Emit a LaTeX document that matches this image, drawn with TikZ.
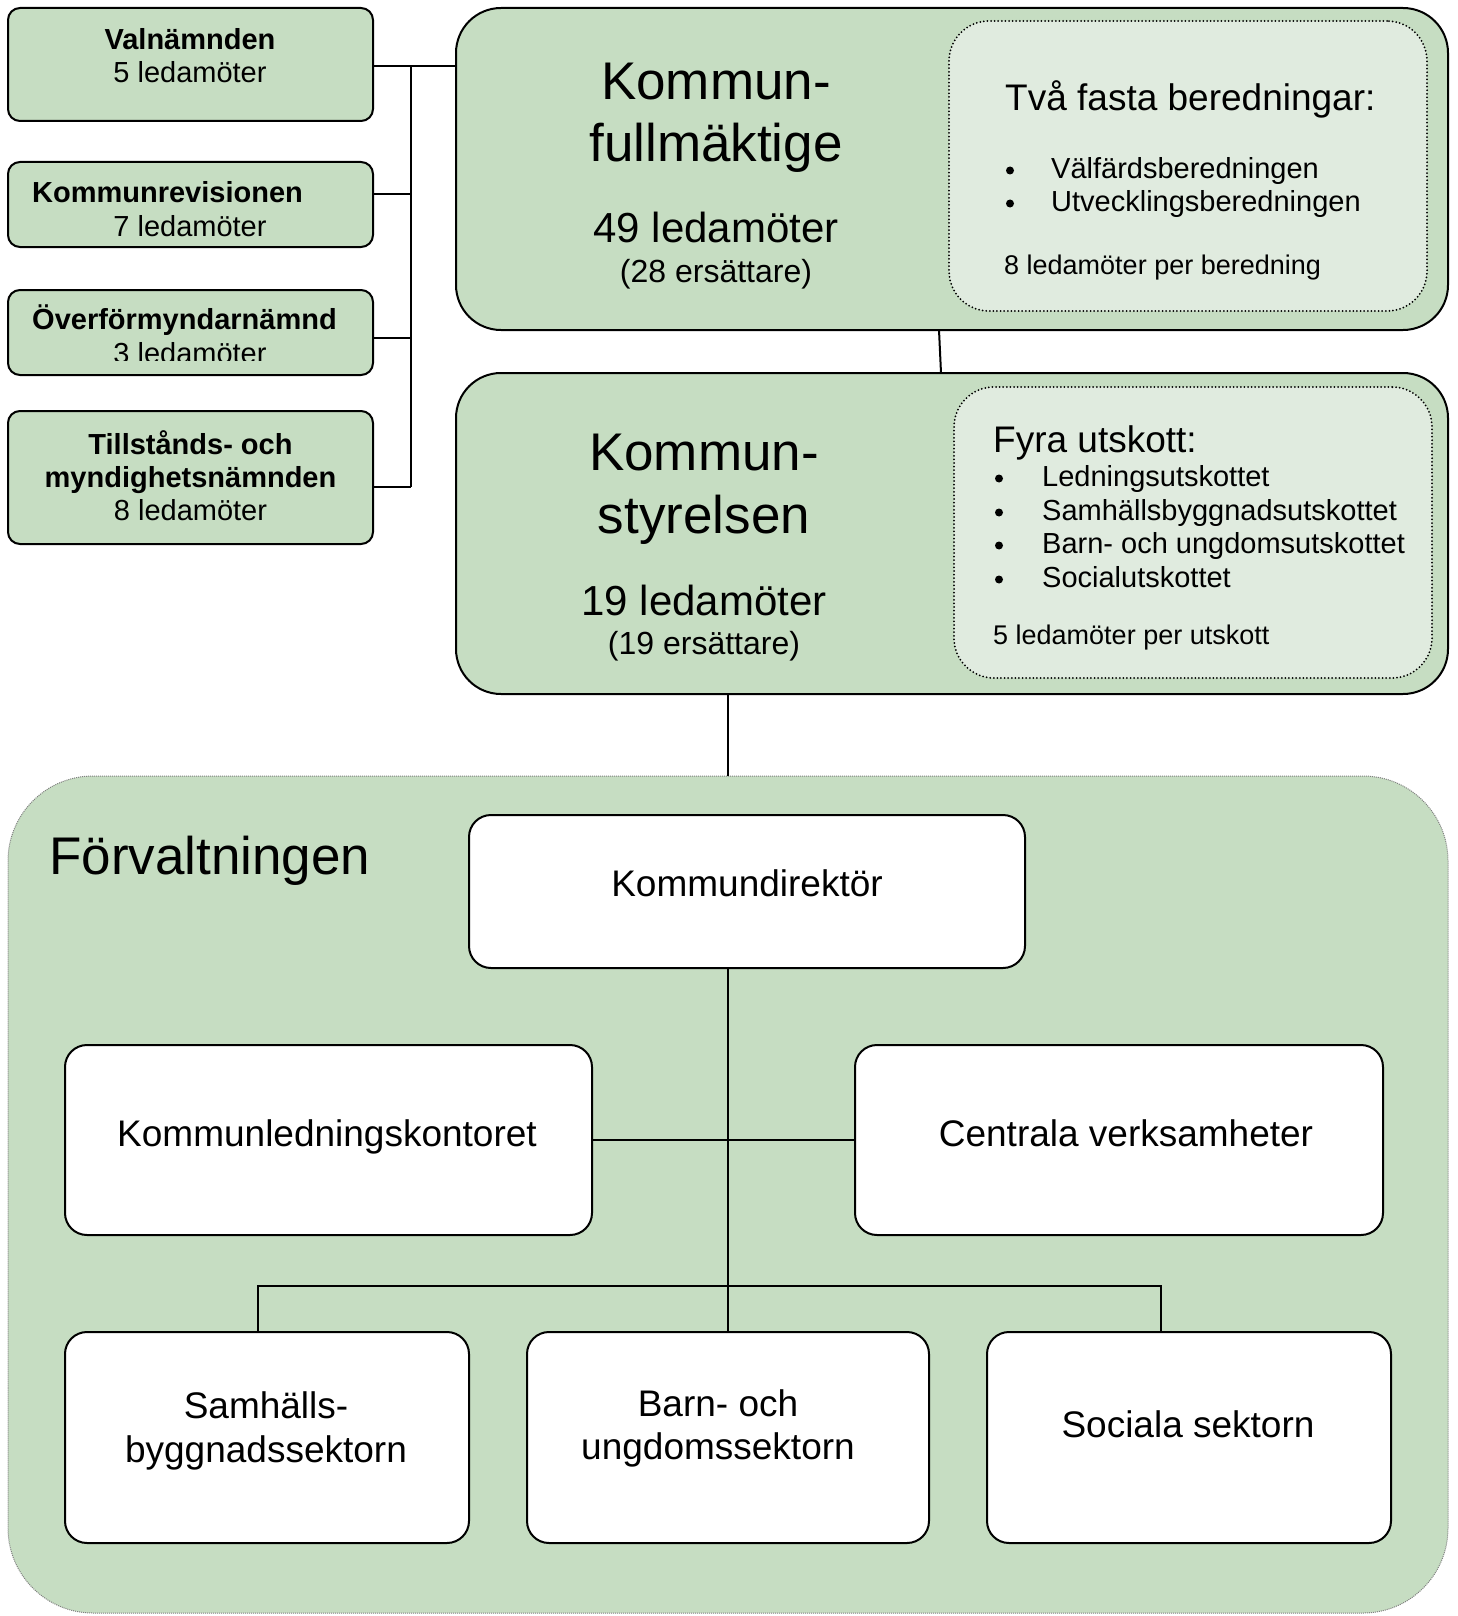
\documentclass[tikz,border=0pt]{standalone}
\usepackage{fontspec}
\setmainfont{Liberation Sans}
\definecolor{boxgreen}{RGB}{198,221,194}
\definecolor{innergreen}{RGB}{224,235,223}
\newcommand{\fsTitle}{\fontsize{53}{62}\selectfont}
\newcommand{\fsCount}{\fontsize{42}{48}\selectfont}
\newcommand{\fsSub}{\fontsize{32}{38}\selectfont}
\newcommand{\fsHead}{\fontsize{37}{43}\selectfont}
\newcommand{\fsItem}{\fontsize{29}{33}\selectfont}
\newcommand{\fsNote}{\fontsize{27}{31}\selectfont}
\begin{document}
\begin{tikzpicture}[x=1pt,y=-1pt,
  box/.style={draw, line width=2pt, inner sep=0pt, outer sep=0pt},
  lbox/.style={box, fill=boxgreen, rounded corners=12pt},
  bigbox/.style={box, fill=boxgreen, rounded corners=45pt},
  inbox/.style={draw, line width=2pt, line cap=round, dash pattern=on 0pt off 3.6pt, fill=innergreen, rounded corners=40pt, inner sep=0pt, outer sep=0pt},
  wbox/.style={box, fill=white, rounded corners=22pt},
  forvbox/.style={draw=gray, line width=1pt, dash pattern=on 1pt off 1pt, fill=boxgreen, rounded corners=85pt, inner sep=0pt, outer sep=0pt},
  conn/.style={line width=2pt},
  txt/.style={inner sep=0pt, anchor=base},
  ltxt/.style={inner sep=0pt, anchor=base west},
  bulletdot/.style={circle, fill=black, inner sep=0pt, minimum size=8pt}]
\useasboundingbox (0,0) rectangle (1457,1616);

% Förvaltningen container
\node[forvbox, minimum width=1440, minimum height=837] (forv) at (728,1194.5) {};

% Left boxes
\node[lbox, minimum width=365, minimum height=113] (val) at (190.5,64.5) {};
\node[lbox, minimum width=365, minimum height=85] (rev) at (190.5,204.5) {};
\node[lbox, minimum width=365, minimum height=85] (ovf) at (190.5,332.5) {};
\node[lbox, minimum width=365, minimum height=133] (till) at (190.5,477.5) {};

% Kommunfullmäktige / Kommunstyrelsen
\node[bigbox, minimum width=992, minimum height=322] (kf) at (952,169) {};
\node[inbox, minimum width=478, minimum height=290] (kfin) at (1188,166) {};
\node[bigbox, minimum width=992, minimum height=321] (ks) at (952,533.5) {};
\node[inbox, minimum width=478, minimum height=291] (ksin) at (1193,532.5) {};

% Förvaltningen boxes
\node[wbox, minimum width=556, minimum height=153] (dir) at (747,891.5) {};
\node[wbox, minimum width=527, minimum height=190] (klk) at (328.5,1140) {};
\node[wbox, minimum width=528, minimum height=190] (cv) at (1119,1140) {};
\node[wbox, minimum width=404, minimum height=211] (sam) at (267,1437.5) {};
\node[wbox, minimum width=402, minimum height=211] (barn) at (728,1437.5) {};
\node[wbox, minimum width=404, minimum height=211] (soc) at (1189,1437.5) {};

% Connectors, left group
\coordinate (busTop) at (411,66);
\coordinate (busBot) at (411,487);
\draw[conn] (busTop) -- (busBot);
\draw[conn] ([yshift=-1.5pt]val.east) -- ([yshift=-1.5pt]val.east -| kf.west);
\draw[conn] ([yshift=10.5pt]rev.east) -- ([yshift=10.5pt]rev.east -| busTop);
\draw[conn] ([yshift=-5pt]ovf.east) -- ([yshift=-5pt]ovf.east -| busTop);
\draw[conn] ([yshift=-9.5pt]till.east) -- (busBot);

% Connectors, main column
\draw[conn] ([xshift=-13pt]kf.south) -- ([xshift=-11pt]ks.north);
\draw[conn] (forv.north) -- (forv.north |- ks.south);
\draw[conn] (barn.north) -- (barn.north |- dir.south);
\draw[conn] (klk.east) -- (cv.west);
\coordinate (bj) at (728,1286);
\draw[conn] ([xshift=-9pt]sam.north) |- (bj) -| ([xshift=-28pt]soc.north);

% Left box texts
\node[txt] (t1a) at (190,49.5) {\fsItem\bfseries Valnämnden};
\node[txt] (t1b) at (190,82.5) {\fsItem 5 ledamöter};
\node[txt] (t2a) at (167.5,202) {\fsItem\bfseries Kommunrevisionen};
\node[txt] (t2b) at (190,236) {\fsItem 7 ledamöter};
\node[txt] (t3a) at (184.5,329.5) {\fsItem\bfseries Överförmyndarnämnd};
\begin{scope}
\clip (0,0) rectangle (400,360);
\node[txt] (t3b) at (190,363.5) {\fsItem 3 ledamöter};
\end{scope}
\node[txt] (t4a) at (190.5,454) {\fsItem\bfseries Tillstånds- och};
\node[txt] (t4b) at (190.5,487) {\fsItem\bfseries myndighetsnämnden};
\node[txt] (t4c) at (190.5,520.5) {\fsItem 8 ledamöter};

% KF texts
\node[txt] (kf1) at (716,100) {\fsTitle Kommun-};
\node[txt] (kf2) at (716,162) {\fsTitle fullmäktige};
\node[txt] (kf3) at (716,242.5) {\fsCount 49 ledamöter};
\node[txt] (kf4) at (716,282.5) {\fsSub (28 ersättare)};
\node[ltxt] (kfh) at (1005,111) {\fsHead Två fasta beredningar:};
\node[bulletdot] (kfb1) at (1010,170.5) {};
\node[bulletdot] (kfb2) at (1010,203.5) {};
\node[ltxt] (kfi1) at (1051,178.5) {\fsItem Välfärdsberedningen};
\node[ltxt] (kfi2) at (1051,211.5) {\fsItem Utvecklingsberedningen};
\node[ltxt] (kfn) at (1004,274) {\fsNote 8 ledamöter per beredning};

% KS texts
\node[txt] (ks1) at (704,470) {\fsTitle Kommun-};
\node[txt] (ks2) at (704,533) {\fsTitle styrelsen};
\node[txt] (ks3) at (704,615) {\fsCount 19 ledamöter};
\node[txt] (ks4) at (704,654) {\fsSub (19 ersättare)};
\node[ltxt] (ksh) at (993,452) {\fsHead Fyra utskott:};
\node[bulletdot] (ksb1) at (999,478.5) {};
\node[bulletdot] (ksb2) at (999,512.5) {};
\node[bulletdot] (ksb3) at (999,545.5) {};
\node[bulletdot] (ksb4) at (999,579.5) {};
\node[ltxt] (ksi1) at (1042,486.5) {\fsItem Ledningsutskottet};
\node[ltxt] (ksi2) at (1042,520.5) {\fsItem Samhällsbyggnadsutskottet};
\node[ltxt] (ksi3) at (1042,553.5) {\fsItem Barn- och ungdomsutskottet};
\node[ltxt] (ksi4) at (1042,587.5) {\fsItem Socialutskottet};
\node[ltxt] (ksn) at (993,644) {\fsNote 5 ledamöter per utskott};

% Förvaltningen texts
\node[ltxt] (ft) at (49,874) {\fsTitle Förvaltningen};
\node[txt] (dirt) at (747,896) {\fsHead Kommundirektör};
\node[txt] (klkt) at (327,1146) {\fsHead Kommunledningskontoret};
\node[txt] (cvt) at (1126,1146) {\fsHead Centrala verksamheter};
\node[txt] (samt1) at (266,1418) {\fsHead Samhälls-};
\node[txt] (samt2) at (266,1462) {\fsHead byggnadssektorn};
\node[txt] (barnt1) at (718,1416) {\fsHead Barn- och};
\node[txt] (barnt2) at (718,1459) {\fsHead ungdomssektorn};
\node[txt] (soct) at (1188,1437) {\fsHead Sociala sektorn};
\end{tikzpicture}
\end{document}
